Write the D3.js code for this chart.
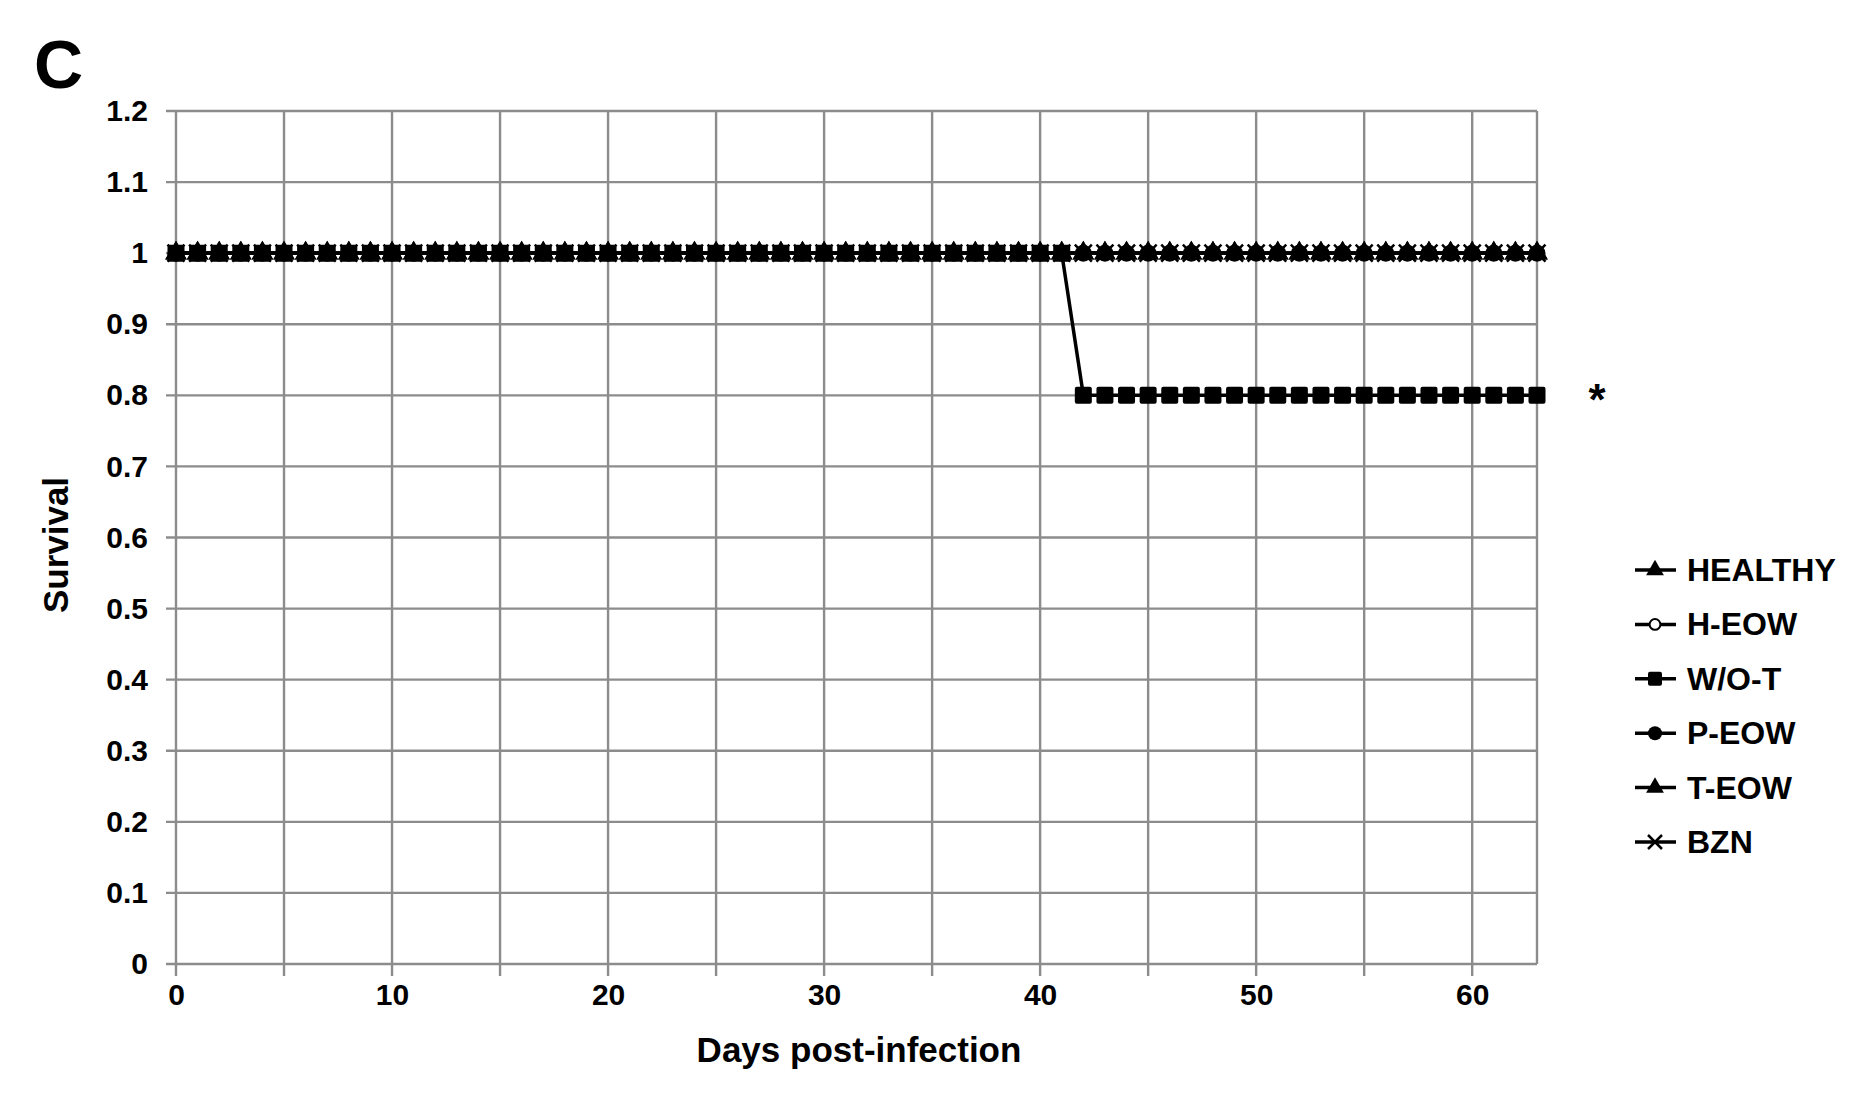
<!DOCTYPE html>
<html><head><meta charset="utf-8">
<script src="https://cdn.jsdelivr.net/npm/d3@7"></script>
<style>body{margin:0;background:#fff}text{font-family:"Liberation Sans",Arial,sans-serif;font-weight:bold}</style>
</head><body><svg id="c" width="1869" height="1095"></svg>
<script>
const days = d3.range(0, 64);
const healthy = days.map(() => 1);
const hEow = days.map(() => 1);
const woT = days.map(d => d <= 41 ? 1 : 0.8);
const pEow = days.map(() => 1);
const tEow = days.map(() => 1);
const bzn = days.map(() => 1);
const seriesNames = ["HEALTHY","H-EOW","W/O-T","P-EOW","T-EOW","BZN"];
const seriesValues = [healthy,hEow,woT,pEow,tEow,bzn];
const symbols = ["triangle","openCircle","square","circle","triangle","x"];
const xTicks = [0,10,20,30,40,50,60];
const yTicks = [0,0.1,0.2,0.3,0.4,0.5,0.6,0.7,0.8,0.9,1,1.1,1.2];

const svg = d3.select("#c");
const L=176,R=1537,T=111,B=964;
const x = d3.scaleLinear().domain([0,63]).range([L,R]);
const y = d3.scaleLinear().domain([0,1.2]).range([B,T]);
const g = svg.append("g");
g.selectAll(".vg").data(d3.range(0,65,5).filter(d=>d<=63)).join("line")
 .attr("x1",d=>x(d)).attr("x2",d=>x(d)).attr("y1",T).attr("y2",B+12)
 .attr("stroke","#8c8c8c").attr("stroke-width",2.4);
g.append("line").attr("x1",R).attr("x2",R).attr("y1",T).attr("y2",B).attr("stroke","#8c8c8c").attr("stroke-width",2.4);
g.selectAll(".hg").data(yTicks).join("line")
 .attr("x1",L-10).attr("x2",R).attr("y1",d=>y(d)).attr("y2",d=>y(d))
 .attr("stroke","#8c8c8c").attr("stroke-width",2.4);
const ax = svg.append("g").attr("transform",`translate(0,${B})`)
 .call(d3.axisBottom(x).tickValues(xTicks).tickSize(0).tickPadding(20));
const ay = svg.append("g").attr("transform",`translate(${L},0)`)
 .call(d3.axisLeft(y).tickValues(yTicks).tickSize(0).tickPadding(28).tickFormat(d=>d3.format("")(+d.toFixed(1))));
[ax,ay].forEach(a=>{a.select(".domain").remove();a.selectAll("text").attr("font-size",30).attr("fill","#000").style("font-family","Liberation Sans, Arial").style("font-weight","bold");});

function marker(sel,type,s){
  if(type==="square") sel.append("rect").attr("x",-s/2).attr("y",-s/2).attr("width",s).attr("height",s).attr("rx",2).attr("fill","#000");
  else if(type==="circle") sel.append("circle").attr("r",s/2).attr("fill","#000");
  else if(type==="openCircle") sel.append("circle").attr("r",s/2.6).attr("fill","#fff").attr("stroke","#000").attr("stroke-width",2);
  else if(type==="triangle") sel.append("path").attr("d",d3.symbol(d3.symbolTriangle,s*s*0.7)()).attr("fill","#000");
  else if(type==="x") sel.append("path").attr("d",`M${-s/2},${-s/2}L${s/2},${s/2}M${-s/2},${s/2}L${s/2},${-s/2}`).attr("stroke","#000").attr("stroke-width",2.5);
}
const line = d3.line().x((v,i)=>x(days[i])).y(v=>y(v));
const order=[2,0,1,3,4,5];
order.forEach(si=>{
  const vals=seriesValues[si];
  svg.append("path").datum(vals).attr("d",line).attr("fill","none").attr("stroke","#000").attr("stroke-width",3.5);
  vals.forEach((v,i)=>{
    const m=svg.append("g").attr("transform",`translate(${x(days[i])},${y(v)})`);
    marker(m,symbols[si],17);
  });
});
svg.append("text").attr("x",1597).attr("y",415).attr("font-size",44).attr("text-anchor","middle").text("*");
seriesNames.forEach((n,i)=>{
  const yy=570+i*54.4;
  svg.append("line").attr("x1",1635).attr("x2",1676).attr("y1",yy).attr("y2",yy).attr("stroke","#000").attr("stroke-width",3.5);
  marker(svg.append("g").attr("transform",`translate(1655,${yy})`),symbols[i],14);
  svg.append("text").attr("x",1687).attr("y",yy+11).attr("font-size",32).text(n);
});
svg.append("text").attr("x",859).attr("y",1062).attr("font-size",35).attr("text-anchor","middle").text("Days post-infection");
svg.append("text").attr("transform","translate(68,545) rotate(-90)").attr("font-size",35).attr("text-anchor","middle").text("Survival");
svg.append("text").attr("x",34).attr("y",88).attr("font-size",68).text("C");
</script></body></html>
